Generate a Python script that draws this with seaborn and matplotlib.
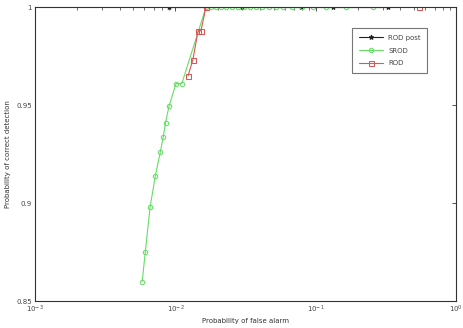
import numpy as np
import pandas as pd
import matplotlib
matplotlib.use("Agg")
import matplotlib.pyplot as plt
import seaborn as sns
from matplotlib.ticker import FixedLocator, FixedFormatter, LogLocator, NullFormatter

# ROD post (black)
rodpost_pfa = [0.009, 0.0296, 0.079, 0.133, 0.325]
rodpost_pd = [1.0, 1.0, 1.0, 1.0, 1.0]

# SROD (green)
srod_pfa = [0.0058, 0.0061, 0.0066, 0.0072, 0.0078, 0.0082, 0.0085, 0.0090, 0.0101, 0.0111,
            0.0165, 0.0179, 0.0194, 0.0211, 0.0228, 0.0252, 0.0278, 0.0306, 0.0338, 0.0372,
            0.0411, 0.0461, 0.0516, 0.0588, 0.068, 0.0801, 0.096, 0.1186, 0.164, 0.255]
srod_pd = [0.860, 0.875, 0.898, 0.914, 0.926, 0.934, 0.941, 0.9495, 0.961, 0.961,
           1.0, 1.0, 1.0, 1.0, 1.0, 1.0, 1.0, 1.0, 1.0, 1.0,
           1.0, 1.0, 1.0, 1.0, 1.0, 1.0, 1.0, 1.0, 1.0, 1.0]

# ROD (red)
rod_pfa = [0.0123, 0.0133, 0.0145, 0.0152, 0.0165, 0.54]
rod_pd = [0.965, 0.973, 0.988, 0.988, 1.0, 1.0]

sns.set_style("white")
plt.rcParams['font.family'] = ['DejaVu Sans']

fig = plt.figure(figsize=(4.64, 3.28), dpi=100)
ax = fig.add_axes([0.0754, 0.082, 0.908, 0.896])

sns.lineplot(x=rodpost_pfa, y=rodpost_pd, ax=ax, color='#222222', marker='*',
             markersize=3.5, mec='#222222', lw=0.8, estimator=None, sort=False,
             label='ROD post')
sns.lineplot(x=srod_pfa, y=srod_pd, ax=ax, color='#66dd66', marker='o', mfc='none',
             mec='#66dd66', markersize=3.2, lw=0.8, estimator=None, sort=False, label='SROD')
sns.lineplot(x=rod_pfa, y=rod_pd, ax=ax, color='#dd5555', marker='s', mfc='none',
             mec='#dd5555', markersize=3.6, lw=0.8, estimator=None, sort=False, label='ROD')

ax.set_xscale('log')
ax.set_xlim(1e-3, 1)
ax.set_ylim(0.85, 1.0)

ax.xaxis.set_major_locator(FixedLocator([1e-3, 1e-2, 1e-1, 1]))
ax.xaxis.set_major_formatter(FixedFormatter([r'$10^{-3}$', r'$10^{-2}$', r'$10^{-1}$', r'$10^{0}$']))
ax.xaxis.set_minor_locator(LogLocator(base=10, subs=np.arange(2, 10)))
ax.xaxis.set_minor_formatter(NullFormatter())
ax.set_yticks([0.85, 0.9, 0.95, 1.0])
ax.set_yticklabels(['0.85', '0.9', '0.95', '1'])

ax.tick_params(which='both', direction='in', top=True, right=True, labelsize=5,
               color='#333333', labelcolor='#444444', pad=2)
ax.tick_params(which='major', length=3, width=0.6)
ax.tick_params(which='minor', length=1.8, width=0.5)
for s in ax.spines.values():
    s.set_color('#333333')
    s.set_linewidth(0.8)

ax.set_xlabel('Probability of false alarm', fontsize=5, color='#333333', labelpad=2)
ax.set_ylabel('Probability of correct detection', fontsize=5, color='#333333', labelpad=4)

leg = ax.legend(loc='upper left', bbox_to_anchor=(0.745, 0.94), fontsize=5,
                frameon=True, fancybox=False, edgecolor='#555555',
                handlelength=3.5, borderpad=0.9, labelspacing=1.0)
leg.get_frame().set_linewidth(0.8)
for t in leg.get_texts():
    t.set_color('#444444')

fig.savefig('out.png', dpi=100)
